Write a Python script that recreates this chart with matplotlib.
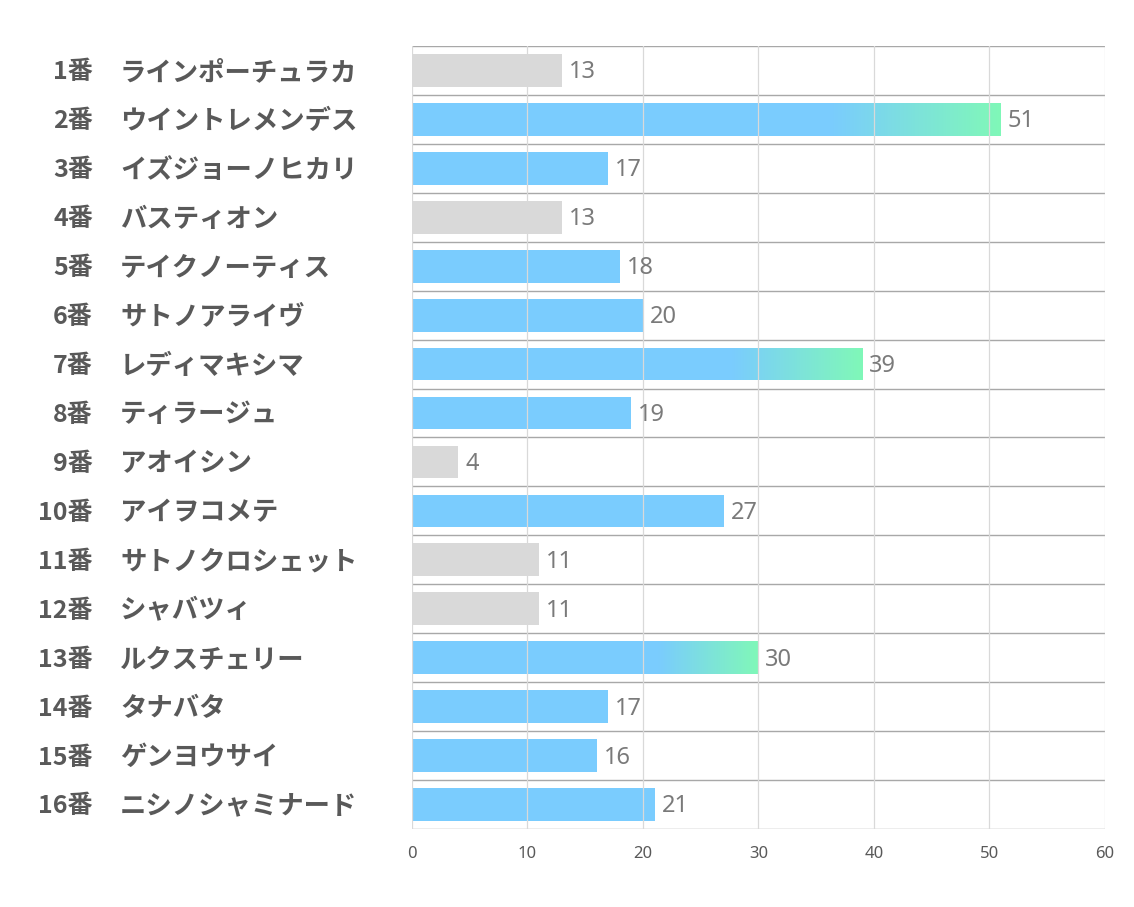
import numpy as np
import matplotlib
matplotlib.use('Agg')
import matplotlib.pyplot as plt
from matplotlib.colors import LinearSegmentedColormap

plt.rcParams['font.family'] = ['Noto Sans CJK JP', 'DejaVu Sans']

numbers = ['1番', '2番', '3番', '4番', '5番', '6番', '7番', '8番',
           '9番', '10番', '11番', '12番', '13番', '14番', '15番', '16番']
names = ['ラインポーチュラカ', 'ウイントレメンデス', 'イズジョーノヒカリ', 'バスティオン',
         'テイクノーティス', 'サトノアライヴ', 'レディマキシマ', 'ティラージュ',
         'アオイシン', 'アイヲコメテ', 'サトノクロシェット', 'シャバツィ',
         'ルクスチェリー', 'タナバタ', 'ゲンヨウサイ', 'ニシノシャミナード']
values = [13, 51, 17, 13, 18, 20, 39, 19, 4, 27, 11, 11, 30, 17, 16, 21]
# 'g' = grey, 'b' = blue, 'x' = blue fading to green
kinds = ['g', 'x', 'b', 'g', 'b', 'b', 'x', 'b', 'g', 'b', 'g', 'g', 'x', 'b', 'b', 'b']

grey = '#D9D9D9'
blue = '#7ACCFE'
green = '#80F8B8'
grad = LinearSegmentedColormap.from_list('bg', [blue, green])

fig = plt.figure(figsize=(11.34, 9.07), dpi=100)
ax = fig.add_axes([0.3633, 0.086, 0.6111, 0.8633])

n = len(values)
ypos = np.arange(n)
bh = 0.67

for y, v, k in zip(ypos, values, kinds):
    col = grey if k == 'g' else blue
    bar = ax.barh(y, v, height=bh, color=col, zorder=2)
    if k == 'x':
        # fade the last part of the bar into green
        start = v * 0.71
        g = np.linspace(0, 1, 256).reshape(1, -1)
        im = ax.imshow(g, cmap=grad, aspect='auto', zorder=2.1,
                       extent=[start, v, y + bh / 2, y - bh / 2], interpolation='bilinear')
        im.set_clip_path(bar.patches[0])
    ax.text(v + 0.6, y + 0.04, str(v), va='center', ha='left', fontsize=17,
            color='#7A7A7A', family=['Noto Sans', 'DejaVu Sans'], zorder=3)

ax.set_xlim(0, 60)
ax.set_ylim(n - 0.5, -0.5)

for xv in range(0, 61, 10):
    ax.axvline(xv, color='#D9D9D9', lw=0.9, zorder=2.5)
for yb in np.arange(-0.5, n, 1):
    ax.axhline(yb, color='#A8A8A8', lw=1, zorder=1)

for s in ax.spines.values():
    s.set_visible(False)

ax.set_yticks([])
ax.set_xticks(range(0, 61, 10))
ax.tick_params(axis='x', length=0, pad=12, labelsize=12, labelcolor='#595959')
for lab in ax.get_xticklabels():
    lab.set_family(['Noto Sans', 'DejaVu Sans'])

for y, num, nm in zip(ypos, numbers, names):
    yf = ax.transData.transform((0, y + 0.04))[1] / fig.bbox.height
    fig.text(93 / 1134, yf, num, ha='right', va='center', fontsize=18,
             fontweight='bold', color='#595959')
    fig.text(120 / 1134, yf, nm, ha='left', va='center', fontsize=19,
             fontweight='bold', color='#595959')

fig.savefig('out.png', dpi=100)
